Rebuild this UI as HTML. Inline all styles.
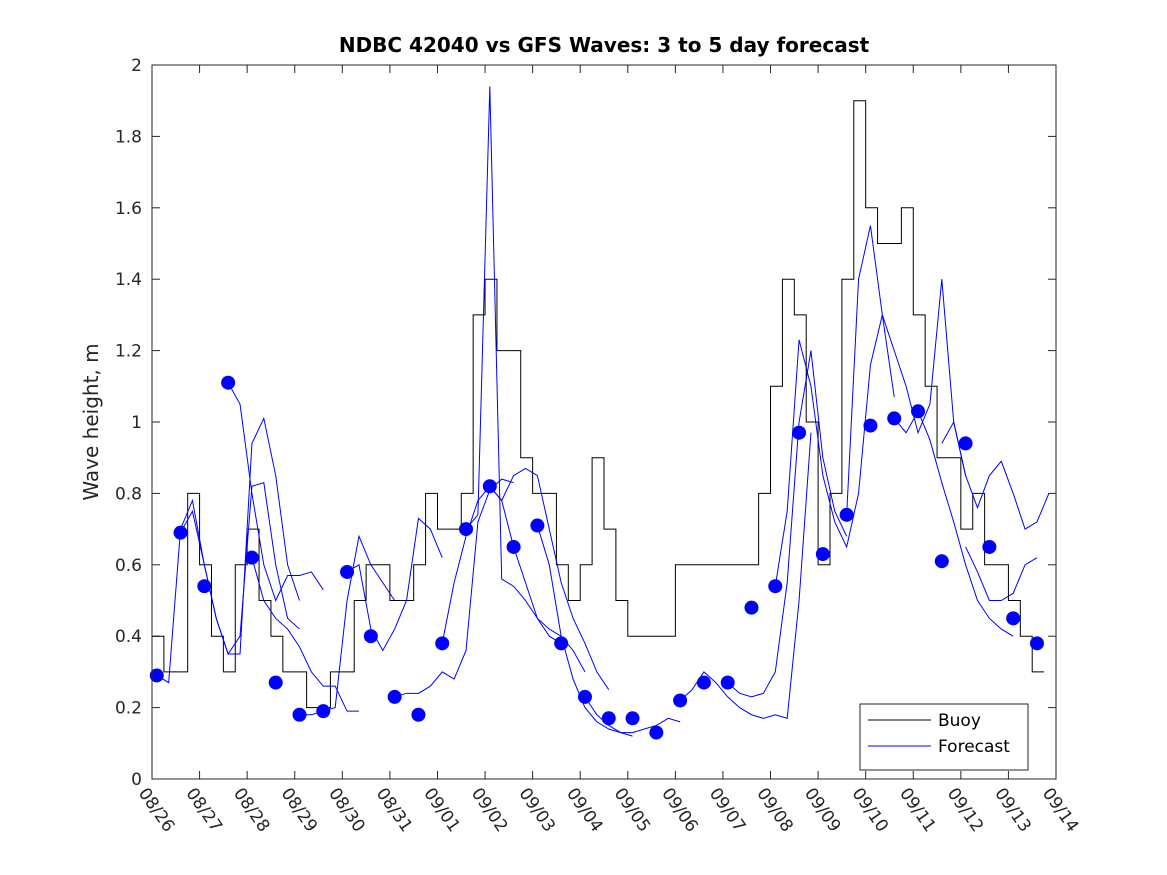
<!DOCTYPE html>
<html><head><meta charset="utf-8"><style>
body{margin:0;background:#fff;}
svg{display:block;font-family:"DejaVu Sans","Liberation Sans",sans-serif;}
</style></head><body>
<svg id="chart" width="1167" height="875" viewBox="0 0 1167 875">
<rect width="1167" height="875" fill="#fff"/>
<text x="604" y="52" text-anchor="middle" font-size="20" font-weight="bold" fill="#000">NDBC 42040 vs GFS Waves: 3 to 5 day forecast</text>
<text transform="translate(98,422) rotate(-90)" text-anchor="middle" font-size="20" fill="#262626">Wave height, m</text>
<g id="grid"></g>
<g id="series"></g>
<rect x="152" y="65" width="904" height="714" fill="none" stroke="#262626" stroke-width="1"/>
<g>
<rect x="860" y="704" width="168" height="66" fill="#fff" stroke="#262626"/>
<line x1="868" y1="720" x2="931" y2="720" stroke="#000"/>
<text x="938" y="726" font-size="17" fill="#000">Buoy</text>
<line x1="868" y1="746" x2="931" y2="746" stroke="#00f"/>
<text x="938" y="752" font-size="17" fill="#000">Forecast</text>
</g>
</svg>
<script>
const xLabels=["08/26","08/27","08/28","08/29","08/30","08/31","09/01","09/02","09/03","09/04","09/05","09/06","09/07","09/08","09/09","09/10","09/11","09/12","09/13","09/14"];
const yTicks=[0,0.2,0.4,0.6,0.8,1,1.2,1.4,1.6,1.8,2];
const buoyStep=0.25;
const buoyValues=[0.4,0.3,0.3,0.8,0.6,0.4,0.3,0.6,0.7,0.5,0.4,0.3,0.3,0.2,0.2,0.3,0.3,0.5,0.6,0.6,0.5,0.5,0.6,0.8,0.7,0.7,0.8,1.3,1.4,1.2,1.2,0.9,0.8,0.8,0.6,0.5,0.6,0.9,0.7,0.5,0.4,0.4,0.4,0.4,0.6,0.6,0.6,0.6,0.6,0.6,0.6,0.8,1.1,1.4,1.3,1.0,0.6,0.8,1.4,1.9,1.6,1.5,1.5,1.6,1.3,1.1,0.9,0.9,0.7,0.8,0.6,0.6,0.5,0.4,0.3];
const dotTimes=[];for(let i=0;i<38;i++)dotTimes.push(0.1+0.5*i);
const dotValues=[0.29,0.69,0.54,1.11,0.62,0.27,0.18,0.19,0.58,0.40,0.23,0.18,0.38,0.70,0.82,0.65,0.71,0.38,0.23,0.17,0.17,0.13,0.22,0.27,0.27,0.48,0.54,0.97,0.63,0.74,0.99,1.01,1.03,0.61,0.94,0.65,0.45,0.38];
const fcStarts=[0.1,0.6,1.6,2.1,3.1,4.1,5.1,6.1,6.6,7.1,8.1,9.1,11.1,12.1,13.1,14.6,15.6,16.6,17.1];
const fcValues=[
[0.29,0.27,0.7,0.78,0.6,0.45,0.35,0.4,0.82,0.83,0.6,0.45,0.42],
[0.69,0.75,0.6,0.45,0.35,0.35,0.94,1.01,0.85,0.6,0.5],
[1.11,1.05,0.8,0.6,0.5,0.57,0.57,0.58,0.53],
[0.62,0.5,0.45,0.42,0.37,0.3,0.26,0.26,0.19,0.19],
[0.18,0.18,0.19,0.2,0.5,0.68,0.6,0.55,0.5],
[0.58,0.6,0.42,0.36,0.42,0.5,0.73,0.7,0.62],
[0.23,0.24,0.24,0.26,0.3,0.28,0.36,0.72,0.81,0.84,0.83],
[0.38,0.55,0.68,0.78,0.82,0.78,0.65,0.55,0.45,0.4,0.38],
[0.70,0.74,1.94,0.56,0.54,0.5,0.45,0.42,0.4,0.36,0.3],
[0.82,0.78,0.85,0.87,0.85,0.7,0.55,0.45,0.38,0.3,0.25],
[0.71,0.6,0.4,0.28,0.2,0.16,0.14,0.13,0.12],
[0.23,0.18,0.15,0.13,0.13,0.14,0.15,0.17,0.16],
[0.22,0.25,0.3,0.27,0.23,0.2,0.18,0.17,0.18,0.17,0.5,0.97],
[0.27,0.24,0.23,0.24,0.3,0.55,1.0,1.2,0.9,0.75,0.68],
[0.54,0.75,1.23,1.1,0.85,0.72,0.65,0.8,1.16,1.3,1.07],
[0.74,1.4,1.55,1.3,1.2,1.1,0.97,1.05,1.4,1.0,0.85],
[1.01,0.97,1.03,0.95,0.83,0.72,0.6,0.5,0.45,0.42,0.4],
[0.94,1.0,0.85,0.76,0.85,0.89,0.8,0.7,0.72,0.8],
[0.65,0.58,0.5,0.5,0.52,0.6,0.62]
];
const fcStep=0.25;
const NS="http://www.w3.org/2000/svg";
const X0=152,X1=1056,Y0=779,Y1=65,TMAX=19,VMAX=2;
function xs(t){return X0+(X1-X0)*t/TMAX;}
function ys(v){return Y0-(Y0-Y1)*v/VMAX;}
function mk(tag,attrs,parent){const e=document.createElementNS(NS,tag);for(const k in attrs)e.setAttribute(k,attrs[k]);parent.appendChild(e);return e;}
const grid=document.getElementById('grid'),ser=document.getElementById('series');
yTicks.forEach(v=>{
  const y=ys(v);
  const l1=mk('line',{x1:X0,x2:X0+8,y1:y,y2:y,stroke:'#262626'},grid);
  
  
  const l2=mk('line',{x1:X1-8,x2:X1,y1:y,y2:y,stroke:'#262626'},grid);
  
  
  const t=mk('text',{x:X0-10,y:y+6,'text-anchor':'end','font-size':'17',fill:'#262626'},grid);
  t.textContent=String(v);
  
  
});
xLabels.forEach((s,i)=>{
  const x=xs(i);
  const l1=mk('line',{x1:x,x2:x,y1:Y0,y2:Y0-8,stroke:'#262626'},grid);
  
  
  const l2=mk('line',{x1:x,x2:x,y1:Y1,y2:Y1+8,stroke:'#262626'},grid);
  
  
  const t=mk('text',{transform:`translate(${x-14},${Y0+14}) rotate(55)`,'font-size':'17',fill:'#262626'},grid);
  t.textContent=s;
  
  
});
let d='';
buoyValues.forEach((v,i)=>{const xa=xs(i*buoyStep),xb=xs(Math.min((i+1)*buoyStep,TMAX));d+=(i?'L':'M')+xa+','+ys(v)+'L'+xb+','+ys(v);});
const bp=mk('path',{d:d,fill:'none',stroke:'#000','stroke-width':'1'},ser);


fcValues.forEach((arr,k)=>{
  const pts=arr.map((v,i)=>xs(fcStarts[k]+i*fcStep)+','+ys(v)).join(' ');
  const p=mk('polyline',{points:pts,fill:'none',stroke:'#00f','stroke-width':'1'},ser);
  
  
});
dotValues.forEach((v,i)=>{
  const c=mk('ellipse',{cx:xs(dotTimes[i]),cy:ys(v),rx:7,ry:7,fill:'#00f'},ser);
  
  
});
</script>
</body></html>
